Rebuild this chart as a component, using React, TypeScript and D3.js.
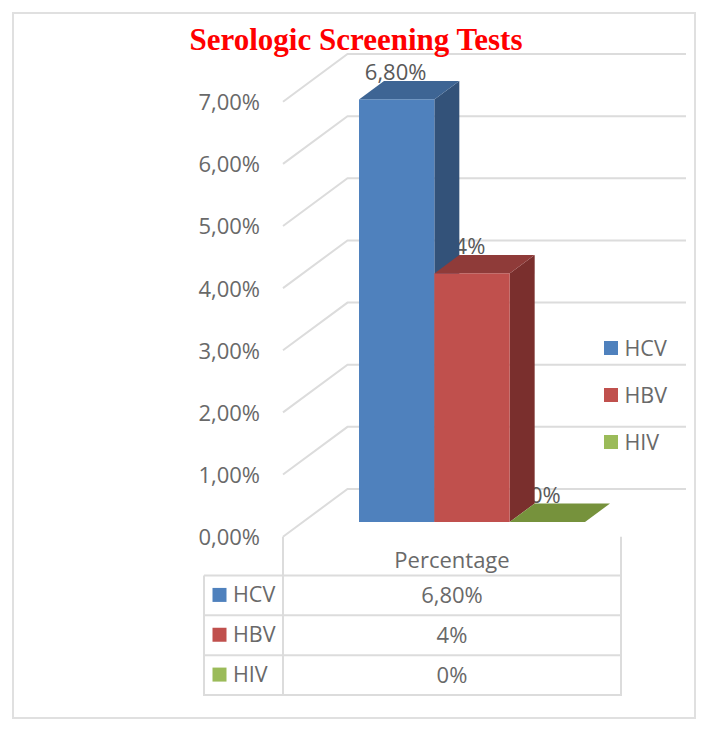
import React from "react";
import * as d3 from "d3";

const series = ["HCV", "HBV", "HIV"];
const values = [6.8, 4, 0];
const valueLabels = ["6,80%", "4%", "0%"];
const yTicks = [0, 1, 2, 3, 4, 5, 6, 7];
const yTickLabels = ["0,00%", "1,00%", "2,00%", "3,00%", "4,00%", "5,00%", "6,00%", "7,00%"];
const frontColors = ["#4F81BD", "#C0504D", "#9BBB59"];
const topColors = ["#3E6594", "#8F3B39", "#76923C"];
const sideColors = ["#335279", "#7A2F2D", "#5F7730"];

const width = 708;
const height = 732;
const font = "'Open Sans', sans-serif";
const textColor = "#696969";
const lineColor = "#dcdcdc";

export default function App() {
  const y = d3.scaleLinear().domain([0, 7]).range([522, 87]);
  const x = d3.scaleBand().domain(series).range([359, 585]);
  const bw = x.bandwidth();

  // depth of the bars and of the floor
  const barDx = 25;
  const barDy = -18.5;
  const wallFront = 283;
  const wallBack = 347.5;
  const wallRight = 686;
  const wallFrontOff = 14.7;
  const wallBackOff = -33;

  const rows = d3.scaleBand().domain(series).range([575.5, 695]);
  const tableLeft = 204;
  const tableRight = 621;

  return (
    <svg
      width={width}
      height={height}
      style={{ position: "absolute", left: 0, top: 0, background: "#fff" }}
      fontFamily={font}
    >
      <rect x={13} y={13} width={682} height={705} fill="none" stroke="#e0e0e0" strokeWidth={2} />

      {/* walls */}
      <g fill="none" stroke={lineColor} strokeWidth={2}>
        {yTicks.map((t) => (
          <polyline
            key={t}
            points={`${wallFront},${y(t) + wallFrontOff} ${wallBack},${y(t) + wallBackOff} ${wallRight},${y(t) + wallBackOff}`}
          />
        ))}
      </g>

      {yTicks.map((t, i) => (
        <text key={t} x={260} y={y(t) + wallFrontOff + 8.5} textAnchor="end" fontSize={22} fill={textColor}>
          {yTickLabels[i]}
        </text>
      ))}

      <text
        x={356}
        y={50}
        textAnchor="middle"
        fontFamily="'Liberation Serif', serif"
        fontWeight={700}
        fontSize={31}
        fill="#ff0000"
      >
        Serologic Screening Tests
      </text>

      {/* value labels go under the bars, the neighbouring bar hides part of them */}
      {series.map((s, i) => (
        <text
          key={s}
          x={x(s)! + bw / 2 + (i === 0 ? -1 : -2)}
          y={y(values[i]) - 19}
          textAnchor="middle"
          fontSize={22}
          fill="#595959"
        >
          {valueLabels[i]}
        </text>
      ))}

      {/* bars, left to right: each one covers the side of the one before */}
      {series.map((s, i) => {
        const x0 = x(s)!;
        const x1 = x0 + bw;
        const yt = y(values[i]);
        const yb = y(0);
        return (
          <g key={s}>
            <polygon
              points={`${x1},${yt} ${x1 + barDx},${yt + barDy} ${x1 + barDx},${yb + barDy} ${x1},${yb}`}
              fill={sideColors[i]}
            />
            <polygon
              points={`${x0},${yt} ${x0 + barDx},${yt + barDy} ${x1 + barDx},${yt + barDy} ${x1},${yt}`}
              fill={topColors[i]}
            />
            <rect x={x0} y={yt} width={bw} height={yb - yt} fill={frontColors[i]} />
          </g>
        );
      })}

      {/* legend */}
      {series.map((s, i) => (
        <g key={s} transform={`translate(604,${348 + i * 47})`}>
          <rect x={0} y={-7} width={14} height={14} fill={frontColors[i]} />
          <text x={20.5} y={7.5} fontSize={21.5} fill={textColor}>
            {s}
          </text>
        </g>
      ))}

      {/* data table */}
      <g stroke={lineColor} strokeWidth={2}>
        <line x1={wallFront} x2={wallFront} y1={y(0) + wallFrontOff} y2={695} />
        <line x1={tableRight} x2={tableRight} y1={y(0) + wallFrontOff} y2={695} />
        <line x1={tableLeft} x2={tableLeft} y1={575.5} y2={695} />
        {series.map((s) => (
          <line key={s} x1={tableLeft} x2={tableRight} y1={rows(s)} y2={rows(s)} />
        ))}
        <line x1={tableLeft - 1} x2={tableRight + 1} y1={695} y2={695} />
      </g>
      <text x={452} y={568} textAnchor="middle" fontSize={22} fill={textColor}>
        Percentage
      </text>
      {series.map((s, i) => {
        const cy = rows(s)! + rows.bandwidth() / 2;
        return (
          <g key={s}>
            <rect x={212.5} y={cy - 7.5} width={14} height={14} fill={frontColors[i]} />
            <text x={233} y={cy + 6.5} fontSize={21.5} fill={textColor}>
              {s}
            </text>
            <text x={452} y={cy + 7.5} textAnchor="middle" fontSize={22} fill={textColor}>
              {valueLabels[i]}
            </text>
          </g>
        );
      })}
    </svg>
  );
}
